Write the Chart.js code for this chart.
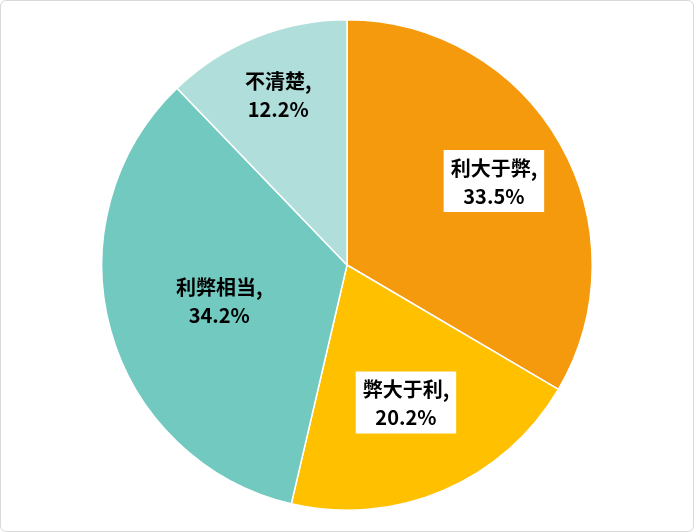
<!DOCTYPE html>
<html><head><meta charset="utf-8">
<script src="https://cdn.jsdelivr.net/npm/chart.js@4"></script>
<style>
html,body{margin:0;padding:0;background:#fff;}
#wrap{position:absolute;left:0;top:0;width:692px;height:530px;border:1px solid #d9d9d9;border-radius:6px;overflow:hidden;}
</style></head><body>
<div id="wrap"><canvas id="c" width="692" height="530"></canvas></div>
<script>
const categories = ['利大于弊','弊大于利','利弊相当','不清楚'];
const values = [33.5, 20.2, 34.2, 12.2];
const colors = ['#F59A0C','#FFC000','#72C9C0','#B0DEDA'];
const labelBoxed = [true, true, false, false];
const labelRadius = [0.69, 0.61, 0.54, 0.75];

const labelPlugin = {
  id:'lbl',
  afterDatasetsDraw(chart){
    const ctx = chart.ctx;
    const meta = chart.getDatasetMeta(0);
    ctx.save();
    ctx.font = 'bold 20px "Noto Sans CJK SC", sans-serif';
    ctx.textAlign='center'; ctx.textBaseline='middle';
    meta.data.forEach((arc,i)=>{
      const mid = (arc.startAngle+arc.endAngle)/2;
      const r = arc.outerRadius*labelRadius[i];
      const x = arc.x + Math.cos(mid)*r, y = arc.y + Math.sin(mid)*r;
      const l1 = categories[i]+',', l2 = values[i].toFixed(1)+'%';
      if(labelBoxed[i]){
        const w = Math.max(ctx.measureText(l1).width, ctx.measureText(l2).width)+14;
        ctx.fillStyle='#fff'; ctx.fillRect(x-w/2, y-31, w, 62);
      }
      ctx.fillStyle='#000';
      ctx.fillText(l1, x, y-13);
      ctx.fillText(l2, x, y+15);
    });
    ctx.restore();
  }
};

new Chart(document.getElementById('c'),{
  type:'pie',
  data:{labels:categories,datasets:[{data:values,backgroundColor:colors,borderColor:'#fff',borderWidth:1.5}]},
  options:{responsive:false,animation:false,
    layout:{padding:{top:18,bottom:20}},
    plugins:{legend:{display:false},tooltip:{enabled:false}}},
  plugins:[labelPlugin]
});
</script></body></html>
